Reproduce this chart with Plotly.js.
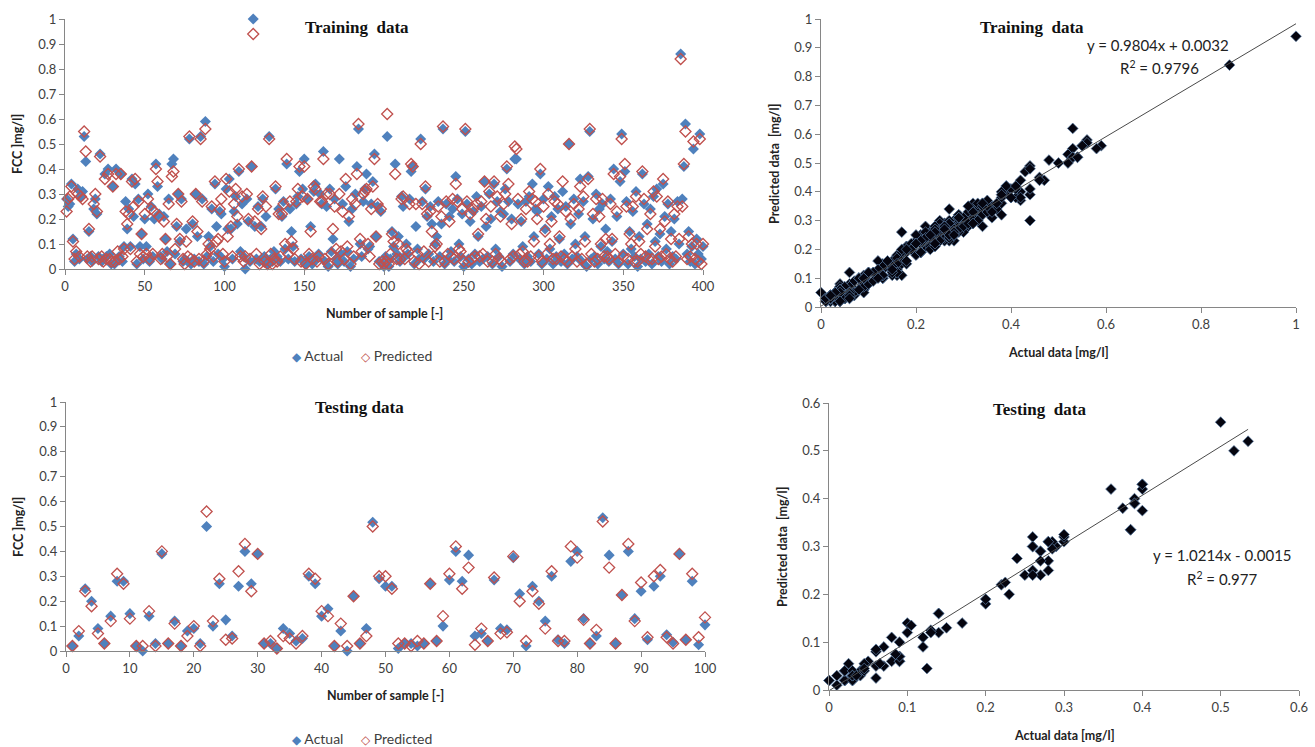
<!DOCTYPE html>
<html>
<head>
<meta charset="utf-8">
<script src="https://cdn.plot.ly/plotly-3.0.1.min.js"></script>
<style>
html,body{margin:0;padding:0;background:#fff;}
#chart{width:1315px;height:747px;}
</style>
</head>
<body>
<div id="chart"></div>
<script>
// ---------------- DATA ----------------
const trainActual = [
0.28,0.25,0.26,0.34,0.12,0.03,0.06,0.32,0.04,0.29,
0.31,0.53,0.43,0.04,0.15,0.05,0.03,0.24,0.28,0.22,
0.05,0.46,0.03,0.04,0.38,0.05,0.40,0.06,0.02,0.33,
0.02,0.40,0.04,0.05,0.38,0.03,0.09,0.27,0.16,0.24,
0.09,0.36,0.21,0.34,0.02,0.28,0.09,0.14,0.04,0.20,
0.09,0.30,0.03,0.25,0.05,0.20,0.42,0.33,0.22,0.05,
0.04,0.21,0.12,0.07,0.28,0.02,0.42,0.44,0.06,0.17,
0.30,0.11,0.28,0.03,0.04,0.16,0.03,0.52,0.02,0.18,
0.04,0.30,0.13,0.03,0.53,0.28,0.02,0.59,0.05,0.13,
0.09,0.24,0.03,0.34,0.17,0.06,0.23,0.22,0.04,0.01,
0.32,0.16,0.36,0.16,0.04,0.23,0.29,0.18,0.39,0.07,
0.26,0.05,0.00,0.28,0.19,0.03,0.41,1.00,0.17,0.04,
0.25,0.03,0.17,0.28,0.05,0.21,0.02,0.53,0.04,0.03,
0.07,0.32,0.05,0.24,0.03,0.21,0.27,0.08,0.42,0.04,
0.24,0.15,0.09,0.03,0.26,0.29,0.39,0.04,0.32,0.44,
0.02,0.28,0.05,0.17,0.02,0.31,0.34,0.04,0.06,0.30,
0.26,0.47,0.03,0.25,0.01,0.32,0.07,0.12,0.28,0.04,
0.02,0.44,0.06,0.26,0.03,0.33,0.07,0.19,0.01,0.24,
0.04,0.30,0.41,0.56,0.10,0.05,0.27,0.32,0.38,0.08,
0.09,0.26,0.35,0.46,0.13,0.25,0.03,0.23,0.02,0.01,
0.05,0.53,0.01,0.04,0.15,0.09,0.42,0.06,0.13,0.03,
0.29,0.25,0.05,0.10,0.06,0.28,0.39,0.41,0.02,0.17,
0.08,0.04,0.52,0.27,0.04,0.32,0.21,0.06,0.25,0.18,
0.03,0.10,0.13,0.27,0.05,0.18,0.56,0.02,0.26,0.04,
0.21,0.07,0.24,0.03,0.37,0.28,0.10,0.05,0.22,0.01,
0.55,0.26,0.04,0.19,0.02,0.23,0.06,0.29,0.13,0.03,
0.25,0.04,0.35,0.17,0.05,0.30,0.20,0.02,0.34,0.08,
0.27,0.05,0.23,0.01,0.22,0.32,0.40,0.27,0.03,0.20,
0.06,0.44,0.44,0.26,0.04,0.19,0.09,0.02,0.27,0.05,
0.29,0.03,0.34,0.13,0.24,0.23,0.06,0.38,0.02,0.28,
0.16,0.04,0.33,0.08,0.21,0.02,0.29,0.05,0.24,0.12,
0.03,0.31,0.06,0.25,0.02,0.50,0.18,0.04,0.28,0.10,
0.05,0.22,0.36,0.03,0.27,0.13,0.01,0.37,0.55,0.04,
0.20,0.05,0.30,0.02,0.24,0.09,0.26,0.04,0.16,0.07,
0.03,0.28,0.11,0.40,0.04,0.21,0.02,0.35,0.54,0.06,
0.39,0.27,0.02,0.15,0.08,0.23,0.05,0.31,0.01,0.13,
0.04,0.38,0.26,0.03,0.18,0.06,0.24,0.02,0.29,0.11,
0.32,0.05,0.14,0.03,0.34,0.21,0.08,0.26,0.02,0.15,
0.05,0.20,0.04,0.27,0.10,0.86,0.28,0.41,0.58,0.06,
0.15,0.03,0.09,0.48,0.02,0.12,0.06,0.54,0.04,0.09
];
const trainPredicted = [
0.23,0.28,0.29,0.33,0.11,0.04,0.07,0.30,0.05,0.29,
0.28,0.55,0.47,0.05,0.16,0.03,0.05,0.26,0.30,0.23,
0.04,0.45,0.05,0.03,0.36,0.04,0.38,0.04,0.03,0.33,
0.03,0.38,0.07,0.04,0.38,0.05,0.08,0.23,0.18,0.22,
0.08,0.35,0.25,0.36,0.03,0.27,0.06,0.14,0.05,0.22,
0.06,0.28,0.04,0.24,0.06,0.23,0.40,0.35,0.21,0.04,
0.06,0.19,0.12,0.05,0.26,0.02,0.37,0.39,0.08,0.18,
0.30,0.12,0.27,0.04,0.02,0.11,0.05,0.53,0.04,0.19,
0.03,0.30,0.15,0.04,0.52,0.27,0.03,0.56,0.06,0.10,
0.08,0.25,0.05,0.35,0.11,0.12,0.24,0.28,0.06,0.03,
0.36,0.13,0.31,0.17,0.05,0.26,0.32,0.21,0.40,0.05,
0.29,0.03,0.05,0.30,0.20,0.04,0.41,0.94,0.19,0.06,
0.24,0.02,0.16,0.29,0.03,0.25,0.02,0.52,0.06,0.02,
0.04,0.33,0.03,0.22,0.05,0.22,0.26,0.10,0.44,0.06,
0.27,0.11,0.08,0.04,0.27,0.32,0.41,0.03,0.29,0.41,
0.02,0.28,0.06,0.15,0.04,0.33,0.32,0.03,0.05,0.27,
0.27,0.44,0.04,0.30,0.02,0.30,0.06,0.16,0.25,0.08,
0.03,0.30,0.07,0.23,0.04,0.36,0.09,0.21,0.02,0.28,
0.05,0.26,0.38,0.58,0.12,0.07,0.30,0.31,0.32,0.10,
0.05,0.24,0.33,0.44,0.13,0.26,0.02,0.24,0.03,0.02,
0.03,0.62,0.02,0.06,0.14,0.11,0.38,0.04,0.10,0.04,
0.28,0.29,0.04,0.08,0.07,0.26,0.42,0.41,0.03,0.26,
0.06,0.02,0.50,0.26,0.07,0.33,0.22,0.03,0.23,0.15,
0.05,0.09,0.10,0.25,0.03,0.21,0.57,0.03,0.27,0.06,
0.19,0.05,0.28,0.04,0.34,0.27,0.08,0.07,0.24,0.03,
0.56,0.27,0.03,0.22,0.04,0.24,0.05,0.26,0.14,0.05,
0.27,0.06,0.35,0.20,0.03,0.31,0.25,0.03,0.35,0.06,
0.29,0.04,0.21,0.03,0.26,0.30,0.41,0.34,0.04,0.18,
0.05,0.49,0.48,0.28,0.06,0.20,0.07,0.03,0.24,0.03,
0.31,0.05,0.28,0.11,0.27,0.20,0.05,0.40,0.03,0.25,
0.15,0.06,0.30,0.10,0.19,0.04,0.27,0.04,0.26,0.13,
0.05,0.35,0.04,0.23,0.03,0.50,0.20,0.05,0.26,0.08,
0.03,0.24,0.33,0.04,0.29,0.11,0.02,0.36,0.56,0.06,
0.22,0.03,0.28,0.04,0.21,0.10,0.28,0.05,0.12,0.05,
0.04,0.26,0.12,0.38,0.06,0.23,0.03,0.37,0.52,0.05,
0.42,0.25,0.04,0.14,0.10,0.25,0.03,0.29,0.03,0.11,
0.06,0.39,0.28,0.05,0.16,0.04,0.22,0.04,0.31,0.09,
0.29,0.04,0.16,0.05,0.36,0.19,0.06,0.27,0.04,0.12,
0.03,0.22,0.05,0.25,0.12,0.84,0.25,0.42,0.55,0.04,
0.13,0.05,0.10,0.51,0.04,0.10,0.03,0.52,0.02,0.10
];
const testActual = [
0.02,0.06,0.25,0.20,0.09,0.03,0.14,0.28,0.28,0.15,
0.02,0.00,0.14,0.03,0.39,0.03,0.12,0.02,0.08,0.09,
0.03,0.50,0.10,0.27,0.125,0.06,0.26,0.40,0.27,0.39,
0.03,0.03,0.01,0.09,0.07,0.04,0.05,0.30,0.27,0.14,
0.17,0.02,0.08,0.00,0.22,0.03,0.09,0.517,0.29,0.26,
0.26,0.01,0.03,0.03,0.02,0.03,0.27,0.04,0.10,0.285,
0.40,0.28,0.385,0.06,0.07,0.04,0.285,0.09,0.085,0.375,
0.23,0.02,0.26,0.20,0.12,0.30,0.045,0.03,0.36,0.40,
0.13,0.03,0.06,0.535,0.385,0.03,0.225,0.40,0.13,0.24,
0.045,0.26,0.30,0.065,0.035,0.39,0.045,0.28,0.025,0.105
];
const testPredicted = [
0.02,0.08,0.24,0.18,0.07,0.03,0.12,0.31,0.27,0.13,
0.02,0.02,0.16,0.02,0.40,0.03,0.11,0.02,0.06,0.10,
0.02,0.56,0.12,0.29,0.045,0.05,0.32,0.43,0.24,0.39,
0.03,0.04,0.01,0.06,0.05,0.03,0.06,0.31,0.29,0.16,
0.14,0.02,0.11,0.02,0.22,0.03,0.06,0.50,0.30,0.30,
0.25,0.03,0.03,0.02,0.04,0.03,0.27,0.04,0.14,0.31,
0.42,0.25,0.335,0.025,0.09,0.04,0.295,0.07,0.075,0.38,
0.20,0.04,0.24,0.19,0.09,0.32,0.04,0.04,0.42,0.375,
0.125,0.03,0.085,0.52,0.335,0.03,0.225,0.43,0.12,0.275,
0.055,0.30,0.325,0.055,0.03,0.39,0.045,0.31,0.055,0.135
];
// sample numbers (1..N)
const trainSample = trainActual.map((_, i) => i + 1);
const testSample = testActual.map((_, i) => i + 1);
// series names
const seriesNames = ['Actual', 'Predicted'];
// trendline equations shown on the chart
const trainSlope = 0.9804, trainIntercept = 0.0032, trainR2 = "0.9796";
const testSlope = 1.0214, testIntercept = -0.0015, testR2 = "0.977";

// ---------------- STYLE ----------------
const W = 1315, H = 747;
const px = v => v / W;
const py = v => 1 - v / H;
const BLUE = '#4F81BD', RED = '#C0504D', AX = '#868686', TXT = '#404040';
const tickFont = {family: 'Lato, "Open Sans", sans-serif', size: 13, color: TXT};

function trend(xs, m, b) {
  const lo = Math.min(...xs), hi = Math.max(...xs);
  return {x: [lo, hi], y: [m * lo + b, m * hi + b]};
}
const tTrain = trend(trainActual, trainSlope, trainIntercept);
const tTest = trend(testActual, testSlope, testIntercept);

const actualMarker = {symbol: 'diamond', size: 8.5, color: BLUE, line: {width: 0}};
const predMarker = {symbol: 'diamond-open', size: 8.5, color: RED, line: {width: 1.3, color: RED}};
const blackMarker = {symbol: 'diamond', size: 8.3, color: '#05050f', line: {width: 0.7, color: '#5d7fa8'}};

const traces = [
  {x: trainSample, y: trainActual, xaxis: 'x', yaxis: 'y', mode: 'markers', type: 'scatter', name: seriesNames[0], marker: actualMarker, cliponaxis: false},
  {x: trainSample, y: trainPredicted, xaxis: 'x', yaxis: 'y', mode: 'markers', type: 'scatter', name: seriesNames[1], marker: predMarker, cliponaxis: false},
  {x: testSample, y: testActual, xaxis: 'x3', yaxis: 'y3', mode: 'markers', type: 'scatter', name: seriesNames[0], marker: actualMarker, cliponaxis: false},
  {x: testSample, y: testPredicted, xaxis: 'x3', yaxis: 'y3', mode: 'markers', type: 'scatter', name: seriesNames[1], marker: predMarker, cliponaxis: false},
  {x: trainActual, y: trainPredicted, xaxis: 'x2', yaxis: 'y2', mode: 'markers', type: 'scatter', marker: blackMarker, cliponaxis: false},
  {x: tTrain.x, y: tTrain.y, xaxis: 'x2', yaxis: 'y2', mode: 'lines', type: 'scatter', line: {color: '#4a4a4a', width: 1}, cliponaxis: false},
  {x: testActual, y: testPredicted, xaxis: 'x4', yaxis: 'y4', mode: 'markers', type: 'scatter', marker: blackMarker, cliponaxis: false},
  {x: tTest.x, y: tTest.y, xaxis: 'x4', yaxis: 'y4', mode: 'lines', type: 'scatter', line: {color: '#4a4a4a', width: 1}, cliponaxis: false}
];

function ax(domain, range, dtick, anchor) {
  return {domain: domain, range: range, dtick: dtick, tick0: 0, anchor: anchor,
    showgrid: false, zeroline: false, showline: true, linecolor: AX, linewidth: 1,
    ticks: 'outside', ticklen: 5, tickcolor: AX, tickwidth: 1, tickfont: tickFont,
    fixedrange: true};
}

const titleFont = {family: '"Liberation Serif", "Times New Roman", serif', size: 17, color: '#111', weight: 'bold'};
const axTitleFont = {family: 'Lato, "Open Sans", sans-serif', size: 12.5, color: '#222', weight: 'bold'};
const eqFont = {family: 'Lato, "Open Sans", sans-serif', size: 15, color: '#222'};
const legFont = {family: 'Lato, "DejaVu Sans", sans-serif', size: 14, color: TXT};

function ann(text, x, y, font, angle) {
  return {text: text, x: px(x), y: py(y), xref: 'paper', yref: 'paper', showarrow: false,
    xanchor: 'center', yanchor: 'middle', font: font, textangle: angle || 0};
}
const legendText = '<span style="color:' + BLUE + ';font-size:12px">\u25C6</span> ' + seriesNames[0] +
  '\u2003\u2002<span style="color:' + RED + ';font-size:12px">\u25C7</span> ' + seriesNames[1];

const layout = {
  width: W, height: H,
  margin: {l: 0, r: 0, t: 0, b: 0},
  showlegend: false,
  paper_bgcolor: '#fff', plot_bgcolor: '#fff',
  xaxis: ax([px(65), px(703)], [0, 400], 50, 'y'),
  yaxis: ax([py(269), py(19)], [0, 1], 0.1, 'x'),
  xaxis2: ax([px(821), px(1296)], [0, 1], 0.2, 'y2'),
  yaxis2: ax([py(307), py(19)], [0, 1], 0.1, 'x2'),
  xaxis3: ax([px(66), px(705)], [0, 100], 10, 'y3'),
  yaxis3: ax([py(651), py(402)], [0, 1], 0.1, 'x3'),
  xaxis4: ax([px(829), px(1299)], [0, 0.6], 0.1, 'y4'),
  yaxis4: ax([py(690), py(403)], [0, 0.6], 0.1, 'x4'),
  annotations: [
    ann('Training  data', 357, 27, titleFont),
    ann('Training  data', 1032, 27, titleFont),
    ann('Testing data', 359, 407, titleFont),
    ann('Testing  data', 1039, 409, titleFont),
    ann('FCC ]mg/l]', 18, 144, axTitleFont, -90),
    ann('FCC ]mg/l]', 18, 527, axTitleFont, -90),
    ann('Number of sample [-]', 384, 313, axTitleFont),
    ann('Number of sample [-]', 385, 695, axTitleFont),
    ann('Predicted data  [mg/l]', 774, 164, axTitleFont, -90),
    ann('Predicted data  [mg/l]', 782, 547, axTitleFont, -90),
    ann('Actual data [mg/l]', 1058, 352, axTitleFont),
    ann('Actual data [mg/l]', 1064, 735, axTitleFont),
    ann('y = ' + trainSlope + 'x + ' + trainIntercept, 1158, 45, eqFont),
    ann('R<sup>2</sup> = ' + trainR2, 1159, 67, eqFont),
    ann('y = ' + testSlope + 'x - ' + Math.abs(testIntercept), 1222, 555, eqFont),
    ann('R<sup>2</sup> = ' + testR2, 1222, 578, eqFont),
    ann(legendText, 362, 355, legFont),
    ann(legendText, 362, 738, legFont)
  ]
};

Plotly.newPlot('chart', traces, layout, {displayModeBar: false, staticPlot: true});
</script>
</body>
</html>
